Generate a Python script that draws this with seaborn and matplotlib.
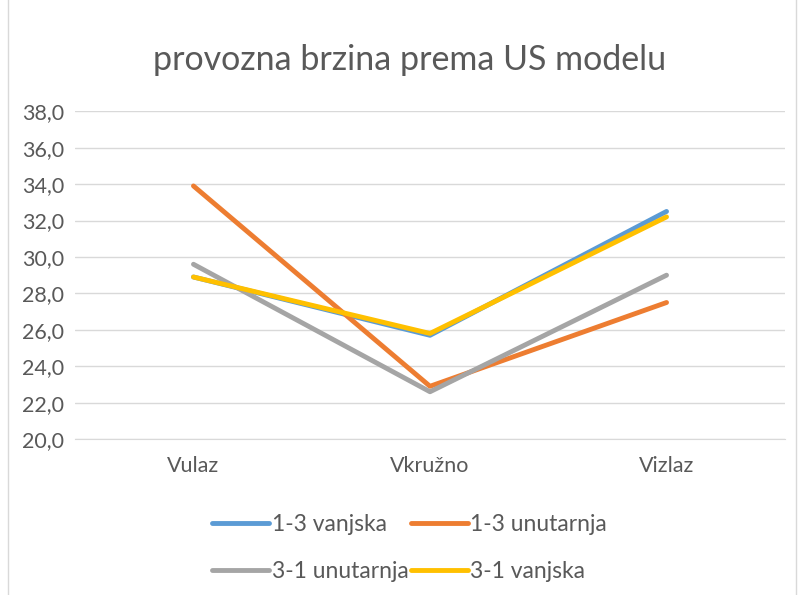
import numpy as np
import pandas as pd
import seaborn as sns
import matplotlib
matplotlib.use("Agg")
from matplotlib import pyplot as plt
from matplotlib.ticker import FuncFormatter, MultipleLocator
from matplotlib.patches import Rectangle

# --- data ---
categories = ["Vulaz", "Vkružno", "Vizlaz"]
series_names = ["1-3 vanjska", "1-3 unutarnja", "3-1 unutarnja", "3-1 vanjska"]
v13_vanjska = [28.9, 25.7, 32.5]
v13_unutarnja = [33.9, 22.9, 27.5]
v31_unutarnja = [29.6, 22.6, 29.0]
v31_vanjska = [28.9, 25.8, 32.2]
colors = ["#5B9BD5", "#ED7D31", "#A5A5A5", "#FFC000"]

rows = []
for name, vals in zip(series_names, [v13_vanjska, v13_unutarnja, v31_unutarnja, v31_vanjska]):
    for i, v in enumerate(vals):
        rows.append({"kat": i, "serija": name, "brzina": v})
df = pd.DataFrame(rows)

sns.set_style("white")
plt.rcParams['font.family'] = ['Lato', 'DejaVu Sans']
txt = "#595959"

fig = plt.figure(figsize=(8, 5.95), dpi=100)
ax = fig.add_axes([0.094, 0.262, 0.887, 0.551])

sns.lineplot(data=df, x="kat", y="brzina", hue="serija", hue_order=series_names,
             palette=colors, linewidth=3.5, ax=ax, legend=False,
             solid_capstyle="round")

ax.set_xlim(-0.5, 2.5)
ax.set_ylim(20, 38)
ax.yaxis.set_major_locator(MultipleLocator(2))
ax.yaxis.set_major_formatter(FuncFormatter(lambda v, p: f"{v:.1f}".replace(".", ",")))
ax.set_xticks(range(3))
ax.set_xticklabels(categories)
ax.set_xlabel("")
ax.set_ylabel("")
ax.grid(axis="y", color="#D9D9D9", linewidth=1)
ax.set_axisbelow(True)
for s in ["top", "right", "left"]:
    ax.spines[s].set_visible(False)
ax.spines["bottom"].set_color("#D9D9D9")
ax.tick_params(axis="both", length=0, labelsize=15.5, colors=txt)
ax.tick_params(axis="x", pad=12)
ax.tick_params(axis="y", pad=8)

fig.text(0.512, 0.9, "provozna brzina prema US modelu", ha="center", va="center",
         fontsize=24.5, color=txt)

# legend filled row by row like the original (matplotlib fills by column)
order = [0, 2, 1, 3]
handles = [plt.Line2D([], [], color=colors[i], linewidth=3.5, solid_capstyle="round") for i in order]
labels = [series_names[i] for i in order]
leg = fig.legend(handles, labels, loc="center", bbox_to_anchor=(0.512, 0.079), ncol=2,
                 frameon=False, fontsize=16.5, handlelength=2.5, handletextpad=0.1,
                 columnspacing=0.1, labelspacing=1.1, labelcolor=txt)

fig.patches.append(Rectangle((0.01, -0.01), 0.985, 1.02, transform=fig.transFigure,
                             fill=False, edgecolor="#D9D9D9", linewidth=1))

fig.savefig("out.png", dpi=100)
